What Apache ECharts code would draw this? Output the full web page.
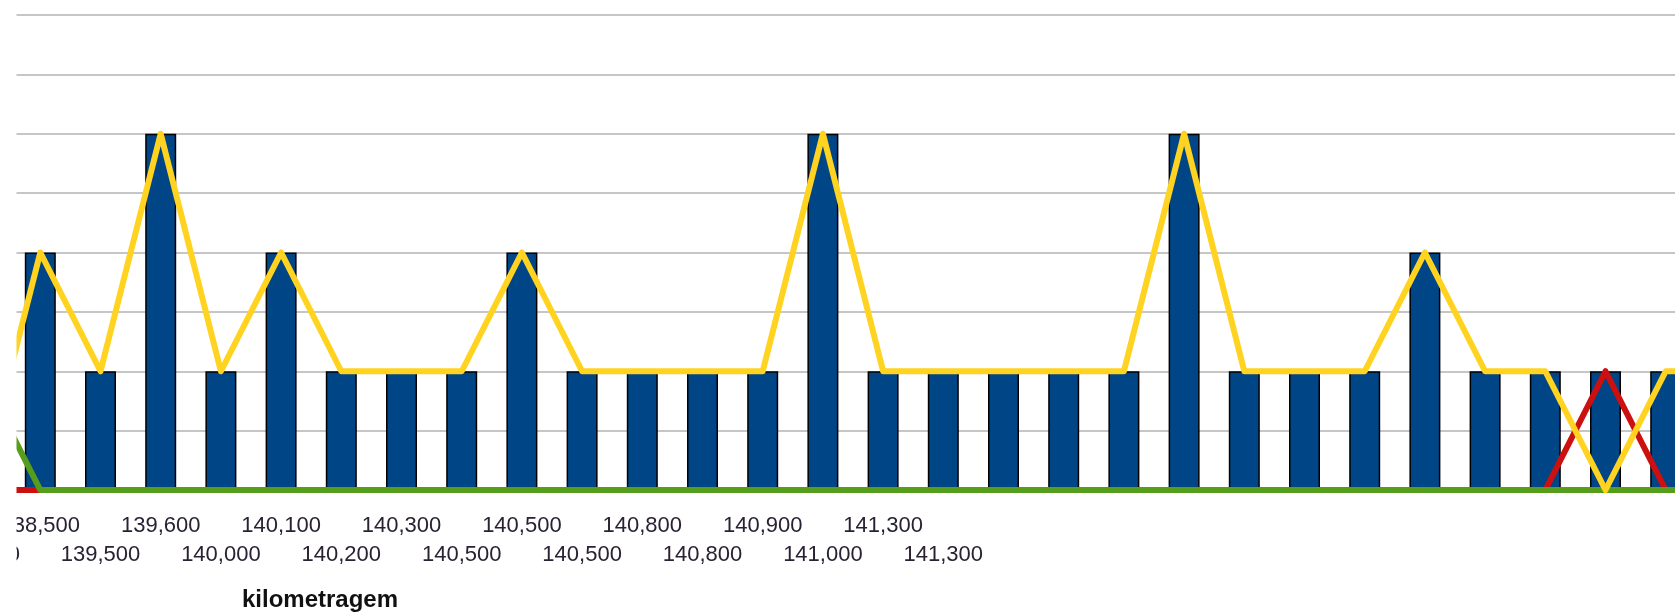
<!DOCTYPE html>
<html>
<head>
<meta charset="utf-8">
<script src="https://cdn.jsdelivr.net/npm/echarts@6/dist/echarts.min.js"></script>
<style>
  html, body { margin: 0; padding: 0; background: #fff; }
  #chart { width: 1675px; height: 613px; }
</style>
</head>
<body>
<div id="chart"></div>
<script>
// kilometragem (o primeiro e o ultimo ficam cortados pela moldura)
const categories = ['138,000', '138,500', '139,500', '139,600', '140,000', '140,100', '140,200',
  '140,300', '140,500', '140,500', '140,500', '140,800', '140,800', '140,900', '141,000',
  '141,300', '141,300', '', '', '', '', '', '', '', '', '', '', '', '', '']

const totalValues = [1, 2, 1, 3, 1, 2, 1, 1, 1, 2, 1, 1, 1, 1, 3, 1, 1, 1, 1, 1, 3, 1, 1, 1, 2, 1, 1, 1, 1, 1]
const yellowValues = [0, 2, 1, 3, 1, 2, 1, 1, 1, 2, 1, 1, 1, 1, 3, 1, 1, 1, 1, 1, 3, 1, 1, 1, 2, 1, 1, 0, 1, 1]
const redValues = [0, 0, 0, 0, 0, 0, 0, 0, 0, 0, 0, 0, 0, 0, 0, 0, 0, 0, 0, 0, 0, 0, 0, 0, 0, 0, 0, 1, 0, 0]
const greenValues = [1, 0, 0, 0, 0, 0, 0, 0, 0, 0, 0, 0, 0, 0, 0, 0, 0, 0, 0, 0, 0, 0, 0, 0, 0, 0, 0, 0, 0, 0]

const chart = echarts.init(document.getElementById('chart'))

const lineStyle = (color) => ({ width: 6, color: color, join: 'round' })

chart.setOption({
  animation: false,
  backgroundColor: '#fff',
  textStyle: { fontFamily: 'Liberation Sans, Arial, sans-serif' },
  grid: { left: -50, right: -81, top: 15, bottom: 123, containLabel: false, outerBoundsMode: 'none' },
  xAxis: {
    type: 'category',
    data: categories,
    axisLine: { lineStyle: { color: '#b3b3b3', width: 1 } },
    axisTick: { length: 7, lineStyle: { color: '#a0a0a0' } },
    axisLabel: {
      interval: 0,
      margin: 21,
      fontSize: 22,
      lineHeight: 29,
      color: '#2a2233',
      hideOverlap: false,
      formatter: (v, i) => (i % 2 === 0 ? '\n' + v : v)
    }
  },
  yAxis: {
    type: 'value',
    min: 0,
    max: 4,
    interval: 0.5,
    axisLabel: { show: false },
    axisLine: { show: false },
    axisTick: { show: false },
    splitLine: { lineStyle: { color: '#b3b3b3', width: 1.5 } }
  },
  title: {
    text: 'kilometragem',
    left: 315,
    top: 583,
    textAlign: 'center',
    textStyle: { fontSize: 24, fontWeight: 'bold', color: '#111', fontFamily: 'Liberation Sans, Arial, sans-serif' }
  },
  series: [
    {
      type: 'bar',
      data: totalValues,
      barWidth: 31,
      itemStyle: { color: '#004586', borderColor: '#000', borderWidth: 1.5 },
      z: 1
    },
    {
      type: 'line',
      data: redValues,
      symbol: 'none',
      lineStyle: lineStyle('#cc1010'),
      z: 3
    },
    {
      type: 'line',
      data: greenValues,
      symbol: 'none',
      lineStyle: lineStyle('#579d1c'),
      z: 4
    },
    {
      type: 'line',
      data: yellowValues,
      symbol: 'none',
      lineStyle: lineStyle('#ffd320'),
      z: 5
    }
  ],
  // moldura branca que corta a parte esquerda do grafico
  graphic: [
    {
      type: 'rect',
      left: 0,
      top: 0,
      z: 100,
      shape: { width: 16.5, height: 613 },
      style: { fill: '#fff' }
    }
  ]
})
</script>
</body>
</html>
